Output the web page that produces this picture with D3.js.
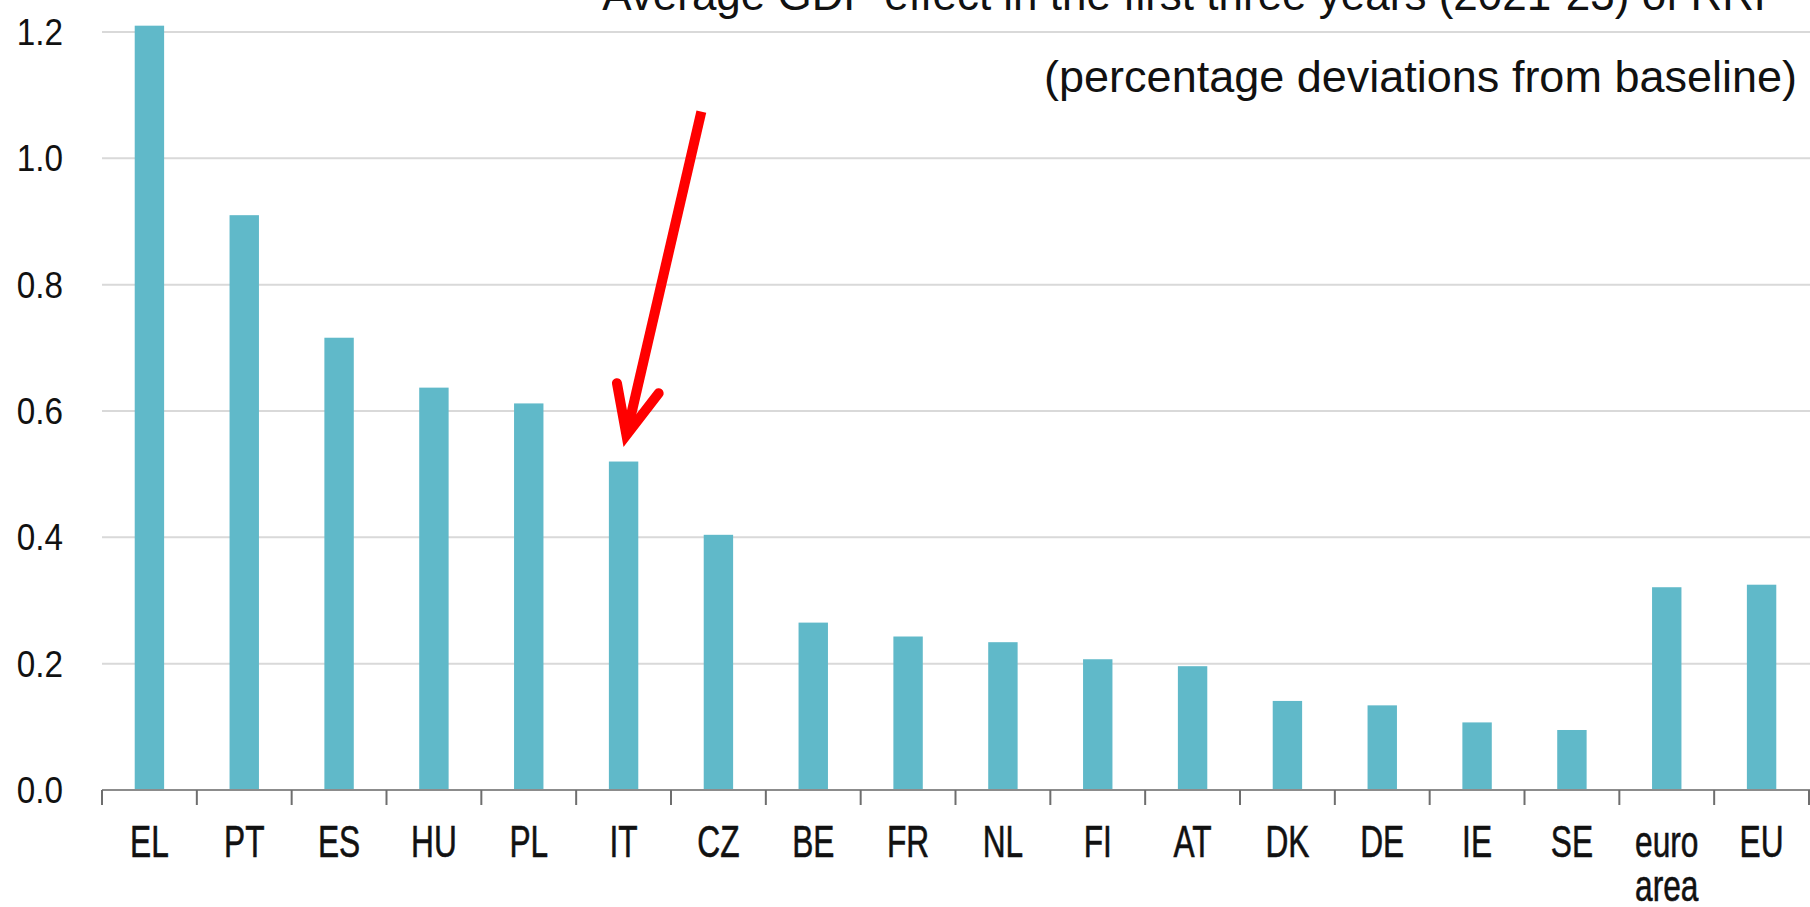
<!DOCTYPE html>
<html>
<head>
<meta charset="utf-8">
<script src="https://cdn.jsdelivr.net/npm/d3@7"></script>
<style>
  html, body { margin: 0; padding: 0; background: #fff; }
  svg { display: block; font-family: "Liberation Sans", Arial, sans-serif; }
</style>
</head>
<body>
<svg id="chart"></svg>
<script>
const categories = ["EL", "PT", "ES", "HU", "PL", "IT", "CZ", "BE", "FR", "NL", "FI", "AT", "DK", "DE", "IE", "SE", "euro area", "EU"];
const values = [1.21, 0.91, 0.716, 0.637, 0.612, 0.52, 0.404, 0.265, 0.243, 0.234, 0.207, 0.196, 0.141, 0.134, 0.107, 0.095, 0.321, 0.325];
const yTicks = [0, 0.2, 0.4, 0.6, 0.8, 1.0, 1.2];
const title = "Average GDP effect in the first three years (2021-23) of RRF";
const subtitle = "(percentage deviations from baseline)";
// arrow pointing at IT: [category, offset in steps, value]
const arrowShaft = [["IT", 0.82, 1.074], ["IT", 0.03, 0.562]];
const arrowHead = [["IT", -0.07, 0.644], ["IT", 0.03, 0.562], ["IT", 0.37, 0.628]];

const width = 1810;
const height = 907;
const margin = { top: 32, right: 1, bottom: 117, left: 102 };

const svg = d3.select("#chart").attr("width", width).attr("height", height);

svg.append("rect").attr("width", width).attr("height", height).attr("fill", "#fff");

const x = d3
  .scaleBand()
  .domain(categories)
  .range([margin.left, width - margin.right])
  .padding(0);

const y = d3
  .scaleLinear()
  .domain([0, 1.2])
  .range([height - margin.bottom, margin.top]);

const barWidth = x.step() * 0.31;

// gridlines
svg
  .append("g")
  .selectAll("line")
  .data(yTicks.filter((d) => d > 0))
  .join("line")
  .attr("x1", margin.left)
  .attr("x2", width)
  .attr("y1", (d) => y(d))
  .attr("y2", (d) => y(d))
  .attr("stroke", "#d9d9d9")
  .attr("stroke-width", 2);

// y labels
svg
  .append("g")
  .selectAll("text")
  .data(yTicks)
  .join("text")
  .attr("transform", (d) => `translate(63,${y(d)}) scale(0.9,1)`)
  .attr("text-anchor", "end")
  .attr("dy", "0.35em")
  .attr("font-size", 37)
  .attr("fill", "#111")
  .text((d) => d3.format(".1f")(d));

// bars
svg
  .append("g")
  .selectAll("rect")
  .data(values)
  .join("rect")
  .attr("x", (d, i) => x(categories[i]) + (x.step() - barWidth) / 2)
  .attr("y", (d) => y(d))
  .attr("width", barWidth)
  .attr("height", (d) => y(0) - y(d))
  .attr("fill", "#60b9c9");

// x axis line and boundary ticks
const axis = svg.append("g");
axis
  .append("line")
  .attr("x1", margin.left)
  .attr("x2", width)
  .attr("y1", y(0))
  .attr("y2", y(0))
  .attr("stroke", "#8c8c8c")
  .attr("stroke-width", 2);

const bounds = categories.map((c) => x(c)).concat([x.range()[1]]);
axis
  .selectAll(".tick-mark")
  .data(bounds)
  .join("line")
  .attr("class", "tick-mark")
  .attr("x1", (d) => d)
  .attr("x2", (d) => d)
  .attr("y1", y(0))
  .attr("y2", y(0) + 15)
  .attr("stroke", "#6e6e6e")
  .attr("stroke-width", 2);

// x labels
const labels = axis
  .selectAll(".x-label")
  .data(categories)
  .join("text")
  .attr("class", "x-label")
  .attr("transform", (d) => `translate(${x(d) + x.step() / 2},${y(0) + 67}) scale(0.72,1)`)
  .attr("text-anchor", "middle")
  .attr("font-size", 44)
  .attr("fill", "#111")
  .attr("stroke", "#111")
  .attr("stroke-width", 0.6);

labels
  .selectAll("tspan")
  .data((d) => d.split(" "))
  .join("tspan")
  .attr("x", 0)
  .attr("dy", (d, i) => (i === 0 ? 0 : 44))
  .text((d) => d);

// titles
svg
  .append("text")
  .attr("x", 1781)
  .attr("y", 10)
  .attr("text-anchor", "end")
  .attr("font-size", 44)
  .attr("fill", "#111")
  .text(title);

svg
  .append("text")
  .attr("x", 1797)
  .attr("y", 92)
  .attr("text-anchor", "end")
  .attr("font-size", 45)
  .attr("fill", "#111")
  .text(subtitle);

// red arrow
const px = (p) => [x(p[0]) + x.step() / 2 + p[1] * x.step(), y(p[2])];
const arrowLine = d3.line();

svg
  .append("path")
  .attr("d", arrowLine(arrowShaft.map(px)))
  .attr("fill", "none")
  .attr("stroke", "#ff0000")
  .attr("stroke-width", 10)
  .attr("stroke-linecap", "butt");

svg
  .append("path")
  .attr("d", arrowLine(arrowHead.map(px)))
  .attr("fill", "none")
  .attr("stroke", "#ff0000")
  .attr("stroke-width", 10)
  .attr("stroke-linecap", "round")
  .attr("stroke-linejoin", "miter");
</script>
</body>
</html>
